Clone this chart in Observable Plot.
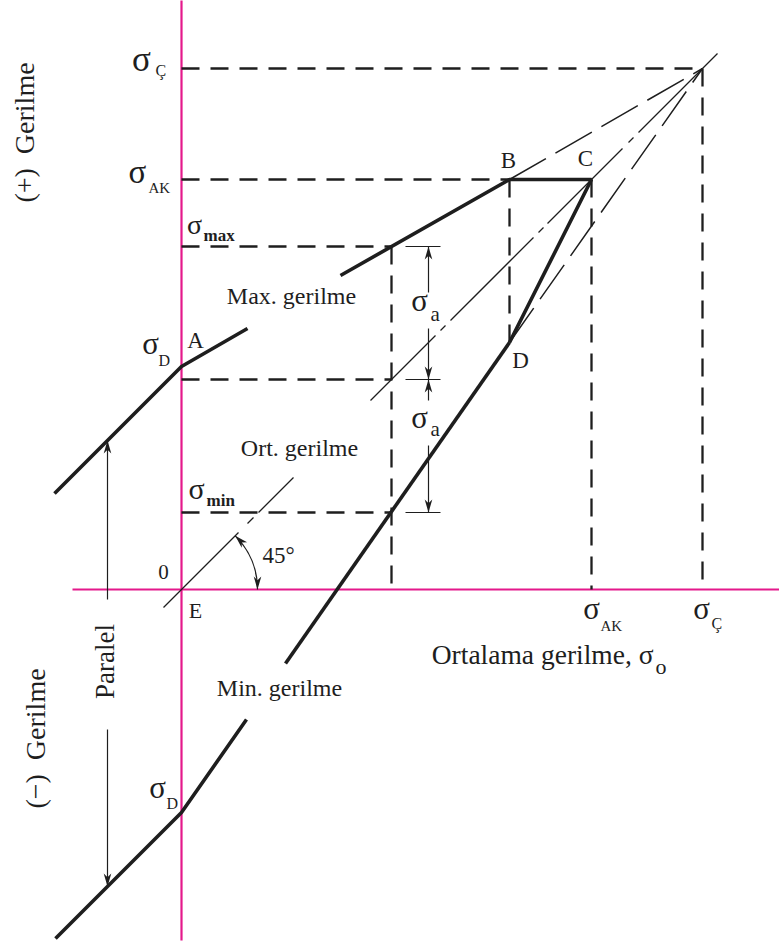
<!DOCTYPE html>
<html>
<head>
<meta charset="utf-8">
<script src="https://cdn.jsdelivr.net/npm/d3@7"></script>
<script src="https://cdn.jsdelivr.net/npm/@observablehq/plot@0.6"></script>
<style>
  body { margin: 0; background: #fff; }
</style>
</head>
<body>
<div id="chart"></div>
<script>
// Smith diagram for fatigue: limit stresses vs. mean stress (same unit on both axes)

// material limits
const sigmaC = 521;   // σÇ  tensile strength
const sigmaAK = 410;  // σAK yield strength
const sigmaD = 223;   // σD  fatigue limit, fully reversed

// working point
const meanStress = 210;   // σo
const ampStress = 133;    // σa
const sigmaMax = meanStress + ampStress;
const sigmaMin = meanStress - ampStress;

// corner points of the envelope
const cornerNames = ["A", "B", "C", "D"];
const cornerX = [0, 328, 410, 328];
const cornerY = [223, 410, 410, 247];

// upper envelope (max. stress), interrupted by its label
const upperX = [-127, 0, 66, 159, 328, 410, 328];
const upperY = [96, 223, 261, 314, 410, 410, 247];
const upperPiece = [0, 0, 0, 1, 1, 1, 1];

// lower envelope (min. stress), interrupted by its label
const lowerX = [-126, 0, 65, 104, 328];
const lowerY = [-349, -223, -130, -74, 247];
const lowerPiece = [0, 0, 0, 1, 1];

// 45° mean-stress line, dash-dot pieces
const diagFrom = [-18, 66, 77, 189, 259, 269, 357, 366, 447, 457];
const diagTo = [57, 72, 112, 254, 264, 352, 362, 441, 452, 536];

const ink = "#1e1e1e";
const magenta = "#e4198b";
const serif = "'Liberation Serif', 'Times New Roman', serif";

const pts = (xs, ys, zs) => xs.map((x, i) => ({x, y: ys[i], z: zs ? zs[i] : 0}));

// filled, slightly barbed arrowhead pointing along angle (0 = up, 90 = right, screen degrees)
function head(angle) {
  const a = angle * Math.PI / 180, L = 13, W = 3.8;
  const ux = Math.sin(a), uy = -Math.cos(a);
  const px = Math.cos(a), py = Math.sin(a);
  return {
    draw(ctx) {
      ctx.moveTo(0, 0);
      ctx.lineTo(-ux * L + px * W, -uy * L + py * W);
      ctx.lineTo(-ux * L * 0.72, -uy * L * 0.72);
      ctx.lineTo(-ux * L - px * W, -uy * L - py * W);
      ctx.closePath();
    }
  };
}

function note(x, y, text, opts) {
  return Plot.text([{x, y}], {x: "x", y: "y", text: () => text, fontFamily: serif, fill: ink, ...opts});
}

// σ with a subscript, anchored at a point in data space
function sigma(x, y, sub, o) {
  return [
    note(x, y, "σ", {dx: o.sx, dy: o.sy, fontSize: o.size, textAnchor: "middle", lineAnchor: "bottom"}),
    note(x, y, sub, {dx: o.bx, dy: o.by, fontSize: o.subSize, fontWeight: o.bold ? "bold" : "normal", textAnchor: "start", lineAnchor: "bottom"})
  ];
}

const hDash = {strokeDasharray: "18,11", strokeWidth: 2.3, stroke: ink};
const longDash = {strokeDasharray: "42,11", strokeWidth: 1.5, stroke: ink};
const thick = {stroke: ink, strokeWidth: 3.6, strokeLinejoin: "miter", strokeLinecap: "butt"};
const arrowX = 247;

const chart = Plot.plot({
  width: 779,
  height: 944,
  margin: 0,
  x: {domain: [-181, 598], axis: null},
  y: {domain: [-355, 589], axis: null},
  style: {background: "#fff"},
  marks: [
    // axes
    Plot.link([{x1: -109, x2: 598}], {x1: "x1", x2: "x2", y1: () => 0, y2: () => 0, stroke: magenta, strokeWidth: 2.2}),
    Plot.link([{y1: -351, y2: 589}], {x1: () => 0, x2: () => 0, y1: "y1", y2: "y2", stroke: magenta, strokeWidth: 2.2}),

    // horizontal construction lines
    Plot.link([
      {y: sigmaC, x2: sigmaC},
      {y: sigmaAK, x2: cornerX[1]},
      {y: sigmaMax, x2: meanStress},
      {y: meanStress, x2: meanStress},
      {y: sigmaMin, x2: meanStress}
    ], {x1: () => 0, x2: "x2", y1: "y", y2: "y", ...hDash}),

    // vertical construction lines
    Plot.link([
      {x: meanStress, y1: sigmaMax, y2: 0},
      {x: cornerX[1], y1: cornerY[1], y2: cornerY[3]},
      {x: sigmaAK, y1: sigmaAK, y2: 0},
      {x: sigmaC, y1: sigmaC, y2: 0}
    ], {x1: "x", x2: "x", y1: "y1", y2: "y2", ...hDash}),

    // envelope lines continued to σÇ on the 45° line
    Plot.link([
      {x1: cornerX[1], y1: cornerY[1]},
      {x1: cornerX[3], y1: cornerY[3]}
    ], {x1: "x1", y1: "y1", x2: () => sigmaC, y2: () => sigmaC, ...longDash}),

    // 45° line
    Plot.link(diagFrom.map((a, i) => ({a, b: diagTo[i]})), {
      x1: "a", y1: "a", x2: "b", y2: "b", stroke: ink, strokeWidth: 1.3
    }),

    // envelope
    Plot.line(pts(upperX, upperY, upperPiece), {x: "x", y: "y", z: "z", ...thick}),
    Plot.line(pts(lowerX, lowerY, lowerPiece), {x: "x", y: "y", z: "z", ...thick}),

    // 45° angle arc
    Plot.arrow([{x1: 53.7, y1: 53.7, x2: 76, y2: 0}], {
      x1: "x1", y1: "y1", x2: "x2", y2: "y2", bend: 22.5, headLength: 0,
      stroke: ink, strokeWidth: 1.2, strokeLinecap: "butt"
    }),

    // σa dimension ticks
    Plot.link([sigmaMax, meanStress, sigmaMin], {
      x1: () => arrowX - 23, x2: () => arrowX + 12, y1: d => d, y2: d => d, stroke: ink, strokeWidth: 1.2
    }),

    // arrow shafts
    Plot.link([
      {x: -74, y1: -10, y2: 149},
      {x: -74, y1: -140, y2: -297},
      {x: arrowX, y1: 297, y2: sigmaMax},
      {x: arrowX, y1: 261, y2: meanStress},
      {x: arrowX, y1: 189, y2: meanStress},
      {x: arrowX, y1: 144, y2: sigmaMin}
    ], {x1: "x", x2: "x", y1: "y1", y2: "y2", stroke: ink, strokeWidth: 1.2}),

    // arrowheads
    Plot.dot([{x: -74, y: 149}, {x: arrowX, y: sigmaMax}, {x: arrowX, y: meanStress}], {
      x: "x", y: "y", symbol: head(0), r: 5, fill: ink, stroke: "none"
    }),
    Plot.dot([{x: -74, y: -297}, {x: arrowX, y: meanStress}, {x: arrowX, y: sigmaMin}, {x: 76, y: 0}], {
      x: "x", y: "y", symbol: head(180), r: 5, fill: ink, stroke: "none"
    }),
    Plot.dot([{x: 53.7, y: 53.7}], {x: "x", y: "y", symbol: head(-45), r: 5, fill: ink, stroke: "none"}),

    // corner letters
    note(cornerX[0], cornerY[0], cornerNames[0], {dx: 14, dy: -26, fontSize: 23}),
    note(cornerX[1], cornerY[1], cornerNames[1], {dx: -1, dy: -19, fontSize: 23}),
    note(cornerX[2], cornerY[2], cornerNames[2], {dx: -6, dy: -21, fontSize: 23}),
    note(cornerX[3], cornerY[3], cornerNames[3], {dx: 11, dy: 18, fontSize: 23}),
    note(0, 0, "0", {dx: -18, dy: -17, fontSize: 21}),
    note(0, 0, "E", {dx: 14, dy: 21, fontSize: 22}),
    note(0, 0, "45°", {dx: 81, dy: -34, fontSize: 23, textAnchor: "start"}),

    // curve names
    note(0, sigmaD, "Max. gerilme", {dx: 110, dy: -63, fontSize: 24, lineAnchor: "bottom"}),
    note(0, 0, "Ort. gerilme", {dx: 118, dy: -134, fontSize: 24, lineAnchor: "bottom"}),
    note(0, 0, "Min. gerilme", {dx: 98, dy: 106, fontSize: 24, lineAnchor: "bottom"}),
    note(0, 0, "Ortalama gerilme, σ", {dx: 472, dy: 74, fontSize: 27.5, textAnchor: "end", lineAnchor: "bottom"}),
    note(0, 0, "o", {dx: 474, dy: 84, fontSize: 22, textAnchor: "start", lineAnchor: "bottom"}),
    note(-74, 0, "Paralel", {dx: -2, dy: 72, fontSize: 27, rotate: -90}),
    note(0, 0, "(+)\u2002Gerilme", {dx: -156, dy: -457, fontSize: 28, rotate: -90}),
    note(0, 0, "(\u2212)\u2002Gerilme", {dx: -145, dy: 149, fontSize: 28, rotate: -90}),

    // stress symbols on the axes
    ...sigma(0, sigmaC, "Ç", {sx: -40, sy: 2, size: 35, bx: -26, by: 7, subSize: 16}),
    ...sigma(0, sigmaAK, "AK", {sx: -44, sy: 3, size: 33, bx: -33, by: 13, subSize: 15}),
    ...sigma(0, sigmaMax, "max", {sx: 13, sy: -13, size: 28, bx: 22, by: -6, subSize: 17, bold: true}),
    ...sigma(0, sigmaD, "D", {sx: -31, sy: -13, size: 31, bx: -23, by: -1, subSize: 16}),
    ...sigma(0, sigmaMin, "min", {sx: 15, sy: -14, size: 30, bx: 25, by: -7, subSize: 17, bold: true}),
    ...sigma(0, -sigmaD, "D", {sx: -24, sy: -15, size: 31, bx: -15, by: -4, subSize: 16}),
    ...sigma(sigmaAK, 0, "AK", {sx: 0, sy: 29, size: 31, bx: 9, by: 41, subSize: 15}),
    ...sigma(sigmaC, 0, "Ç", {sx: -1, sy: 29, size: 31, bx: 9, by: 39, subSize: 16}),
    ...sigma(arrowX, sigmaMax, "a", {sx: -9, sy: 64, size: 31, bx: 2, by: 74, subSize: 21}),
    ...sigma(arrowX, meanStress, "a", {sx: -9, sy: 48, size: 31, bx: 2, by: 56, subSize: 21})
  ]
});

document.getElementById("chart").append(chart);
</script>
</body>
</html>
